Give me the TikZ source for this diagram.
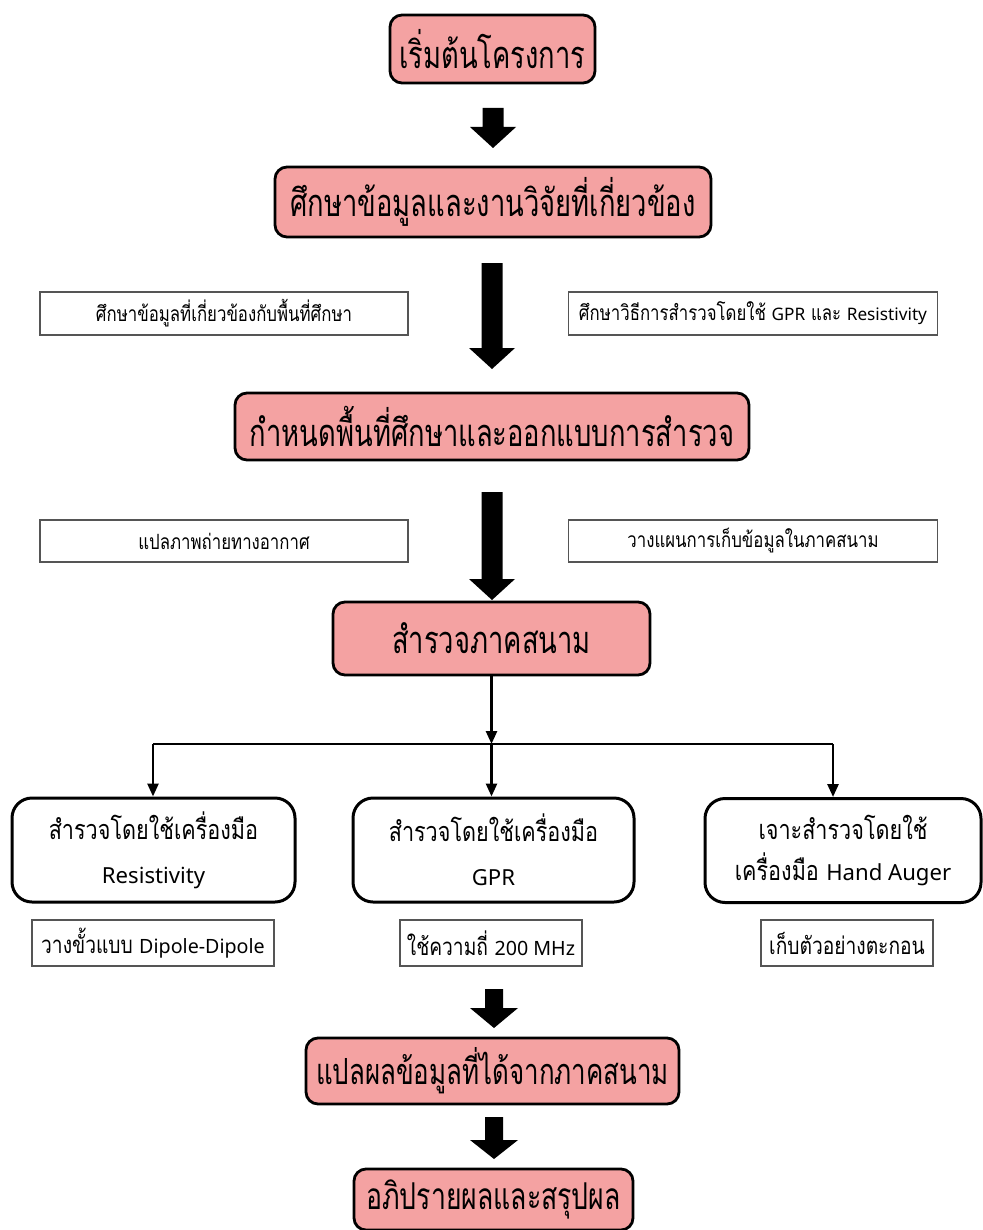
\documentclass[tikz,border=0pt]{standalone}
\usepackage{fontspec}
\setmainfont[Script=Thai]{Loma}
\newfontfamily\thaibig[Script=Thai,FakeStretch=0.72]{Loma}
\newfontfamily\thaimid[Script=Thai,FakeStretch=0.8]{Loma}
\newfontfamily\latinfont[Scale=0.82]{Noto Sans}
\newcommand\lat[1]{{\latinfont #1}}
\usetikzlibrary{arrows.meta}
\definecolor{pinkfill}{RGB}{244,162,162}
\definecolor{notegray}{RGB}{85,85,85}
\tikzset{
  sz/.style 2 args={minimum width=#1*0.5pt, minimum height=#2*0.5pt},
  pinkbox/.style={draw=black, line width=1.4pt, fill=pinkfill, rounded corners=6pt, inner sep=0pt, font=\thaibig\fontsize{19}{22}\selectfont},
  whitebox/.style={draw=black, line width=1.5pt, fill=white, rounded corners=10pt, inner sep=0pt, align=center, font=\thaimid\fontsize{13.5}{20.5}\selectfont},
  notebox/.style={draw=notegray, line width=0.7pt, fill=white, inner sep=0pt, font=\thaimid\fontsize{10.5}{12}\selectfont},
  notebig/.style={notebox, font=\thaimid\fontsize{12}{14}\selectfont},
  thin/.style={line width=1.3pt, -{Triangle[length=6.5pt,width=5.5pt]}},
  blockarrow/.style={fill=black}
}
\newcommand\barrow[6]{% x, top, head start, tip, shaft half, head half
  \fill[blockarrow] (#1-#5,#2) -- (#1+#5,#2) -- (#1+#5,#3) -- (#1+#6,#3) -- (#1,#4) -- (#1-#6,#3) -- (#1-#5,#3) -- cycle;}
\begin{document}
\begin{tikzpicture}[x=0.5pt,y=-0.5pt]
\useasboundingbox (0,0) rectangle (982,1230);
% main flow
\node[pinkbox, sz={205}{68}] (b1) at (492.5,49) {เริ่มต้นโครงการ};
\node[pinkbox, sz={436}{70}] (b2) at (493,202) {ศึกษาข้อมูลและงานวิจัยที่เกี่ยวข้อง};
\node[notebox, sz={368}{43}] (n1L) at (224,313.5) {ศึกษาข้อมูลที่เกี่ยวข้องกับพื้นที่ศึกษา};
\node[notebox, sz={369}{43}] (n1R) at (753,313.5) {ศึกษาวิธีการสำรวจโดยใช้ \lat{GPR} และ \lat{Resistivity}};
\node[pinkbox, sz={514}{67}] (b3) at (492,426.5) {กำหนดพื้นที่ศึกษาและออกแบบการสำรวจ};
\node[notebox, sz={368}{42}] (n2L) at (224,541) {แปลภาพถ่ายทางอากาศ};
\node[notebox, sz={369}{42}] (n2R) at (753,541) {วางแผนการเก็บข้อมูลในภาคสนาม};
\node[pinkbox, sz={317}{73}] (b4) at (491.5,638.5) {สำรวจภาคสนาม};
% three methods
\node[whitebox, sz={283}{104}] (w1) at (153.5,850) {\raisebox{1.5pt}{สำรวจโดยใช้เครื่องมือ}\\\lat{Resistivity}};
\node[whitebox, sz={281}{104}] (w2) at (493.5,850) {\raisebox{1.5pt}{สำรวจโดยใช้เครื่องมือ}\\\lat{GPR}};
\node[whitebox, sz={276}{104}] (w3) at (843,850.5) {เจาะสำรวจโดยใช้\\เครื่องมือ \lat{Hand Auger}};
\node[notebig, sz={242}{46}] (m1) at (153,943) {วางขั้วแบบ \lat{Dipole-Dipole}};
\node[notebig, sz={182}{46}] (m2) at (491,943) {ใช้ความถี่ \lat{200 MHz}};
\node[notebig, sz={172}{46}] (m3) at (847,943) {เก็บตัวอย่างตะกอน};
\node[pinkbox, sz={373}{66}, font=\thaibig\fontsize{18}{22}\selectfont] (b5) at (492.5,1071) {แปลผลข้อมูลที่ได้จากภาคสนาม};
\node[pinkbox, sz={279}{61}, font=\thaibig\fontsize{18.5}{22}\selectfont] (b6) at (493.5,1199.5) {อภิปรายผลและสรุปผล};
% block arrows
\barrow{493}{108}{127}{148}{10.5}{23}
\barrow{492}{263}{348}{369}{10.5}{23}
\barrow{492}{492}{579}{600}{10.5}{23}
\barrow{494}{989}{1008}{1028}{9}{24}
\barrow{494}{1117}{1140}{1159}{9}{24}
% bus
\coordinate (busL) at (153,744);
\coordinate (busM) at (491.5,744);
\coordinate (busR) at (833,744);
\draw[thin] (b4.south) -- (busM);
\draw[line width=1.3pt] (busL) -- (busR);
\draw[thin] (busL) -- (busL |- w1.north);
\draw[thin] (busM) -- (busM |- w2.north);
\draw[thin] (busR) -- (busR |- w3.north);
\end{tikzpicture}
\end{document}
